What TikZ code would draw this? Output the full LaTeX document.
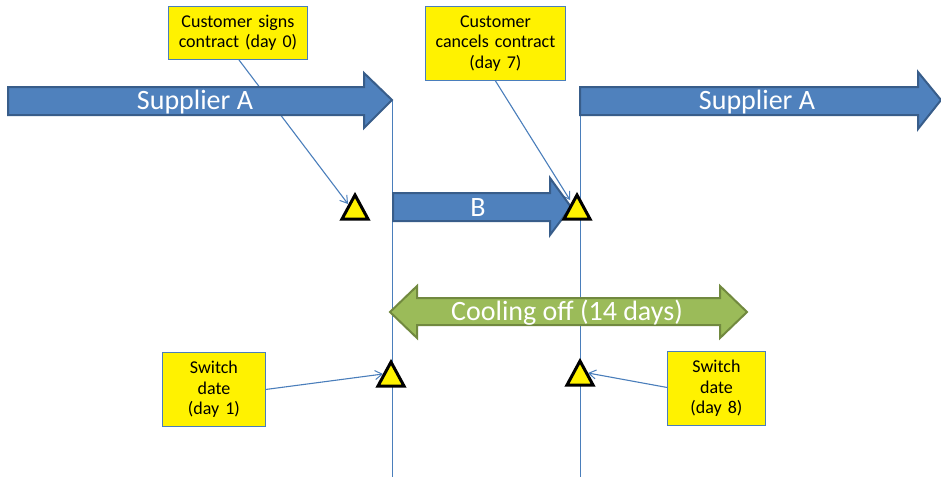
\documentclass[tikz,border=0pt]{standalone}
\usepackage{fontspec}
\setmainfont{Carlito}
\usetikzlibrary{arrows.meta}
\definecolor{abl}{HTML}{4F81BD}
\definecolor{abd}{HTML}{385D8A}
\definecolor{agr}{HTML}{9BBB59}
\definecolor{agd}{HTML}{71893F}
\definecolor{lnb}{HTML}{4A7EBB}
\tikzset{
  bigarrow/.style={fill=abl,draw=abd,line width=2pt,line join=miter},
  greenarrow/.style={fill=agr,draw=agd,line width=2pt,line join=miter},
  bigtext/.style={text=white,font=\fontsize{28}{32}\selectfont,inner sep=0pt},
  callout/.style={fill=yellow,draw=lnb,line width=0.9pt,align=center,
    font=\fontsize{18}{20.5}\selectfont,inner sep=2pt,anchor=north west},
  marker/.style={fill=yellow,draw=black,line width=3pt,line join=miter},
  connector/.style={draw=lnb,line width=1.1pt,-{Straight Barb[length=7pt,width=9pt,line width=1pt]}},
  timeline/.style={draw=lnb,line width=1pt},
}
\begin{document}
\begin{tikzpicture}[x=1pt,y=-1pt]
\useasboundingbox (0,0) rectangle (941,477);

% callout boxes
\node[callout,minimum width=139pt,minimum height=53pt,text width=135pt] (c0) at (168,6) {Customer signs\\contract (day 0)};
\node[callout,minimum width=140pt,minimum height=74pt,text width=136pt] (c7) at (425,6) {Customer\\cancels contract\\(day 7)};
\node[callout,minimum width=103pt,minimum height=74pt,text width=99pt] (s1) at (162,352) {Switch\\date\\(day 1)};
\node[callout,minimum width=98pt,minimum height=74pt,text width=94pt] (s8) at (667,351) {Switch\\date\\(day 8)};

% connector targets on the markers
\coordinate (t0) at (348,204);
\coordinate (t7) at (570,200);
\coordinate (t1) at (383,374);
\coordinate (t8) at (588,373);

% connectors (behind arrows)
\draw[connector] (c0.south) ++(1,0) -- (t0);
\draw[connector] (c7.south) -- (t7);
\draw[connector] (s1.east) -- (t1);
\draw[connector] (s8.west) ++(0,-1) -- (t8);

% vertical timelines
\coordinate (v1top) at (392,100);
\coordinate (v1bot) at (392,477);
\coordinate (v2top) at (580,87);
\coordinate (v2bot) at (580,477);
\draw[timeline] (v1top) -- (v1bot);
\draw[timeline] (v2top) -- (v2bot);

% Supplier A (first)
\draw[bigarrow] (8,87) -- (364,87) -- (364,73) -- (392,100) -- (364,128) -- (364,115) -- (8,115) -- cycle;
\node[bigtext] (sa1) at (195,102) {Supplier A};

% B
\draw[bigarrow] (393,193) -- (550,193) -- (550,178) -- (571,207) -- (550,235) -- (550,221) -- (393,221) -- cycle;
\node[bigtext] (sb) at (478,208) {B};

% Supplier A (second)
\draw[bigarrow] (580,87) -- (918,87) -- (918,72) -- (941,100) -- (918,129) -- (918,115) -- (580,115) -- cycle;
\node[bigtext] (sa2) at (757,102) {Supplier A};

% Cooling off
\draw[greenarrow] (390,312) -- (417,286) -- (417,298) -- (720,298) -- (720,286) -- (747,312) -- (720,338) -- (720,325) -- (417,325) -- (417,338) -- cycle;
\node[bigtext] (co) at (567,313) {Cooling off (14 days)};

% markers
\draw[marker] (355,195) -- (368,219) -- (342,219) -- cycle;
\draw[marker] (577,195) -- (590,219) -- (564,219) -- cycle;
\draw[marker] (391,362) -- (404,386) -- (378,386) -- cycle;
\draw[marker] (580,361) -- (593,385) -- (567,385) -- cycle;
\end{tikzpicture}
\end{document}
